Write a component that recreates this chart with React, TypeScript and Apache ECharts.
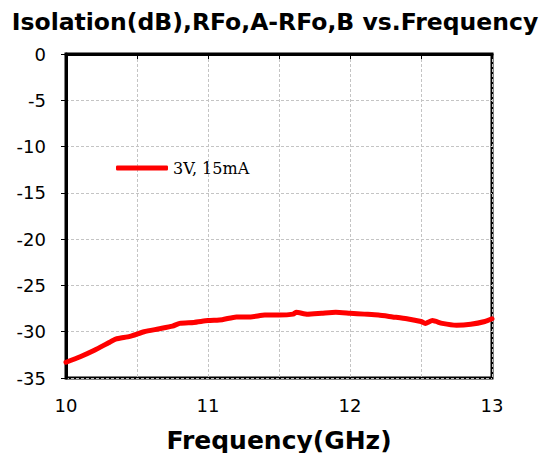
import React, { useEffect, useRef } from "react";
import * as echarts from "echarts";

const freq = [10.0, 10.1, 10.2, 10.3, 10.35, 10.45, 10.55, 10.65, 10.75, 10.8, 10.9, 11.0, 11.1, 11.2, 11.3, 11.4, 11.5, 11.6, 11.62, 11.7, 11.8, 11.9, 12.0, 12.1, 12.2, 12.3, 12.4, 12.5, 12.53, 12.58, 12.65, 12.75, 12.85, 12.95, 13.0];
const isolation = [-33.3, -32.7, -32.0, -31.2, -30.8, -30.5, -30.0, -29.7, -29.4, -29.1, -29.0, -28.8, -28.7, -28.4, -28.4, -28.2, -28.2, -28.1, -27.9, -28.1, -28.0, -27.9, -28.0, -28.1, -28.2, -28.4, -28.6, -28.9, -29.1, -28.8, -29.1, -29.3, -29.2, -28.9, -28.6];
const seriesName = "3V, 15mA";
const titleText = "Isolation(dB),RFo,A-RFo,B vs.Frequency";
const xName = "Frequency(GHz)";

export default function App() {
  const ref = useRef<HTMLDivElement>(null);
  useEffect(() => {
    if (!ref.current) return;
    const chart = echarts.init(ref.current, undefined, { renderer: "svg" });
    chart.setOption({
      animation: false,
      backgroundColor: "#fff",
      title: {
        text: titleText,
        left: "center",
        top: 5,
        textStyle: { fontFamily: "DejaVu Sans", fontWeight: "bold", fontSize: 23.5, color: "#000" },
      },
      grid: {
        left: 66,
        right: 58,
        top: 54,
        bottom: 83,
        show: true,
        borderColor: "#000",
        borderWidth: 3,
        containLabel: false,
        outerBoundsMode: "none",
      },
      legend: {
        left: 111,
        top: 155,
        icon: "roundRect",
        itemWidth: 52,
        itemHeight: 5,
        itemGap: 4,
        textStyle: { fontFamily: "DejaVu Serif", fontSize: 16, color: "#000" },
        data: [seriesName],
      },
      xAxis: {
        type: "value",
        min: 10,
        max: 13,
        interval: 0.5,
        name: xName,
        nameLocation: "middle",
        nameGap: 50,
        nameTextStyle: { fontFamily: "DejaVu Sans", fontWeight: "bold", fontSize: 25, color: "#000" },
        axisLine: { show: true, lineStyle: { color: "#000", width: 3 } },
        axisTick: { show: true, length: 5, lineStyle: { color: "#000", width: 1 } },
        axisLabel: {
          margin: 18,
          fontFamily: "DejaVu Sans",
          fontSize: 18,
          color: "#000",
          formatter: (v: number) => (Math.abs(v - Math.round(v)) < 1e-6 ? String(Math.round(v)) : ""),
        },
        splitLine: { show: true, lineStyle: { color: "#c4c4c4", type: [3, 2], width: 1 } },
      },
      yAxis: {
        type: "value",
        min: -35,
        max: 0,
        interval: 5,
        axisLine: { show: true, lineStyle: { color: "#000", width: 3 } },
        axisTick: { show: true, length: 5, lineStyle: { color: "#000", width: 1 } },
        axisLabel: { margin: 20, fontFamily: "DejaVu Sans", fontSize: 18, color: "#000" },
        splitLine: { show: true, lineStyle: { color: "#c4c4c4", type: [3, 2], width: 1 } },
      },
      series: [
        {
          name: seriesName,
          type: "line",
          data: freq.map((f, i) => [f, isolation[i]]),
          showSymbol: false,
          symbol: "none",
          smooth: 0.2,
          lineStyle: { color: "#ff0000", width: 5, cap: "round", join: "round" },
          itemStyle: { color: "#ff0000" },
        },
      ],
    });
    return () => chart.dispose();
  }, []);
  return <div ref={ref} style={{ width: 550, height: 461, margin: -8 }} />;
}
